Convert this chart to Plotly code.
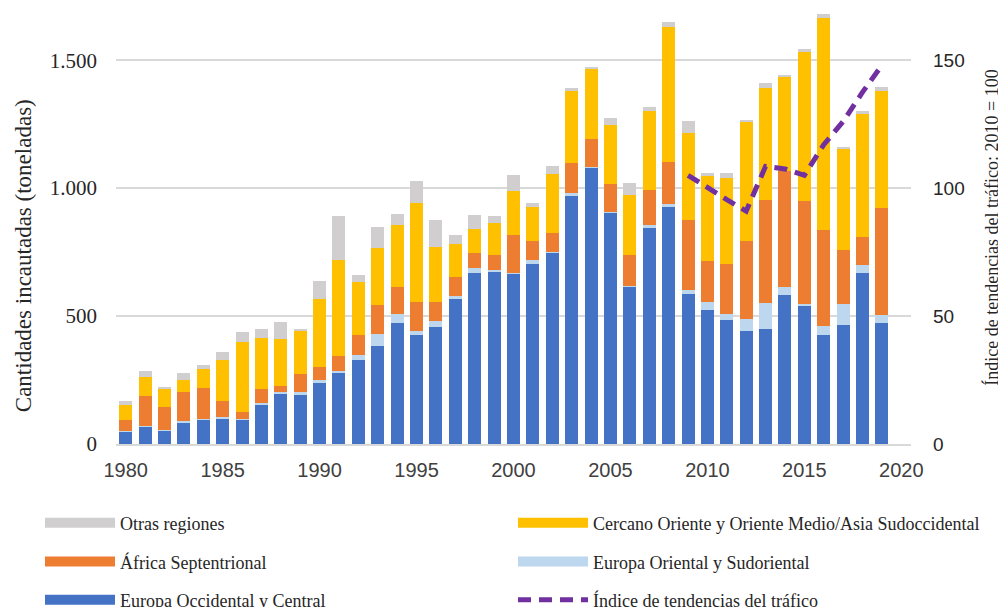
import plotly.graph_objects as go

years = list(range(1980, 2020))

europa_occidental = [48, 69, 53, 85, 94, 100, 94, 156, 198, 193, 240, 276, 328, 384, 473, 426, 457, 566, 668, 675,
                     668, 705, 747, 973, 1079, 903, 614, 844, 928, 586, 525, 483, 440, 451, 581, 541, 426, 467, 668, 473]
europa_oriental = [2, 2, 2, 5, 3, 6, 2, 4, 5, 9, 10, 8, 19, 46, 35, 14, 24, 14, 19, 4,
                   2, 14, 5, 6, 3, 4, 5, 10, 8, 15, 29, 25, 49, 99, 31, 8, 37, 82, 30, 31]
africa_sept = [45, 117, 91, 112, 122, 61, 29, 55, 25, 73, 51, 59, 79, 115, 104, 114, 74, 73, 58, 61,
               148, 73, 72, 118, 109, 108, 121, 140, 166, 275, 160, 197, 305, 403, 454, 401, 375, 208, 110, 417]
cercano_oriente = [57, 73, 70, 48, 74, 160, 275, 201, 182, 167, 265, 378, 206, 221, 243, 388, 216, 129, 94, 124,
                   171, 134, 233, 284, 275, 233, 235, 309, 528, 340, 332, 335, 463, 439, 367, 581, 827, 398, 482, 460]
otras_regiones = [15, 26, 3, 26, 15, 33, 37, 35, 67, 9, 70, 169, 30, 82, 45, 87, 103, 36, 56, 26,
                  61, 16, 30, 11, 9, 25, 45, 14, 18, 46, 13, 19, 11, 19, 9, 11, 15, 5, 13, 15]

index_years = list(range(2009, 2020))
index_values = [105, 100, 95.5, 91, 108.5, 107.5, 105, 117, 126, 137.5, 148]

left_tickvals = [0, 500, 1000, 1500]
left_ticktext = ["0", "500", "1.000", "1.500"]
right_tickvals = [0, 50, 100, 150]
x_tickvals = [1980, 1985, 1990, 1995, 2000, 2005, 2010, 2015, 2020]

names = {
    "occ": "Europa Occidental y Central",
    "ori": "Europa Oriental y Sudoriental",
    "afr": "África Septentrional",
    "cer": "Cercano Oriente y Oriente Medio/Asia Sudoccidental",
    "otr": "Otras regiones",
    "idx": "Índice de tendencias del tráfico",
}
colors = {
    "occ": "#4472C4",
    "ori": "#BDD7EE",
    "afr": "#ED7D31",
    "cer": "#FFC000",
    "otr": "#D0CECE",
    "idx": "#7030A0",
}

fig = go.Figure()
for key, vals in [("occ", europa_occidental), ("ori", europa_oriental), ("afr", africa_sept),
                  ("cer", cercano_oriente), ("otr", otras_regiones)]:
    fig.add_trace(go.Bar(x=years, y=vals, name=names[key], marker=dict(color=colors[key], line=dict(width=0)),
                         showlegend=False, legendgroup=key))

fig.add_trace(go.Scatter(x=index_years, y=index_values, yaxis="y2", mode="lines", name=names["idx"],
                         line=dict(color=colors["idx"], width=5, dash="13px,8px"),
                         showlegend=True, legend="legend6", legendgroup="idx"))

# legend entries (rectangular swatches), one legend box per entry
legend_layout = [("otr", "legend"), ("cer", "legend2"), ("afr", "legend3"), ("ori", "legend4"),
                 ("occ", "legend5")]
for key, lg in legend_layout:
    fig.add_trace(go.Scatter(x=[None], y=[None], mode="lines", name=names[key],
                             line=dict(color=colors[key], width=10), legend=lg, legendgroup=key,
                             showlegend=True))

serif = "Liberation Serif, Times New Roman, serif"
sans = "Liberation Sans, Arial, sans-serif"

common_legend = dict(orientation="h", xanchor="left", yanchor="middle",
                     font=dict(family=serif, size=18, color="#262626"),
                     itemwidth=70, bgcolor="rgba(0,0,0,0)")
col1_x = -0.0956
col2_x = 0.4994
row_y = [-0.182, -0.271, -0.359]

# page body has an 8px offset, so the figure is 8px smaller and margins shifted
fig.update_layout(
    width=998, height=599,
    margin=dict(l=108, r=95, t=1, b=163, autoexpand=False),
    barmode="stack", bargap=0.33,
    plot_bgcolor="white", paper_bgcolor="white",
    xaxis=dict(range=[1979.5, 2020.5], tickvals=x_tickvals, showgrid=False, zeroline=False,
               showline=True, linecolor="#D9D9D9", linewidth=2, ticks="", ticklabelstandoff=7,
               tickfont=dict(family=sans, size=20, color="#404040")),
    yaxis=dict(range=[0, 1700], tickvals=left_tickvals, ticktext=left_ticktext, showgrid=True,
               gridcolor="#D9D9D9", gridwidth=2, zeroline=False, ticks="", ticklabelstandoff=18,
               tickfont=dict(family=serif, size=21, color="#262626")),
    yaxis2=dict(range=[0, 170], tickvals=right_tickvals, overlaying="y", side="right", showgrid=False,
                zeroline=False, ticks="", ticklabelstandoff=21,
                tickfont=dict(family=sans, size=19, color="#262626")),
    legend=dict(common_legend, x=col1_x, y=row_y[0]),
    legend2=dict(common_legend, x=col2_x, y=row_y[0]),
    legend3=dict(common_legend, x=col1_x, y=row_y[1]),
    legend4=dict(common_legend, x=col2_x, y=row_y[1]),
    legend5=dict(common_legend, x=col1_x, y=row_y[2]),
    legend6=dict(common_legend, x=col2_x, y=row_y[2]),
    annotations=[
        dict(text="Cantidades incautadas (toneladas)", textangle=-90, xref="paper", yref="paper",
             x=-0.117, y=0.434, xanchor="center", yanchor="middle", showarrow=False,
             font=dict(family=serif, size=23, color="#262626")),
        dict(text="Índice de tendencias del tráfico: 2010 = 100", textangle=-90, xref="paper", yref="paper",
             x=1.1019, y=0.497, xanchor="center", yanchor="middle", showarrow=False,
             font=dict(family=serif, size=18, color="#262626")),
    ],
)

fig.write_html("out.html")
